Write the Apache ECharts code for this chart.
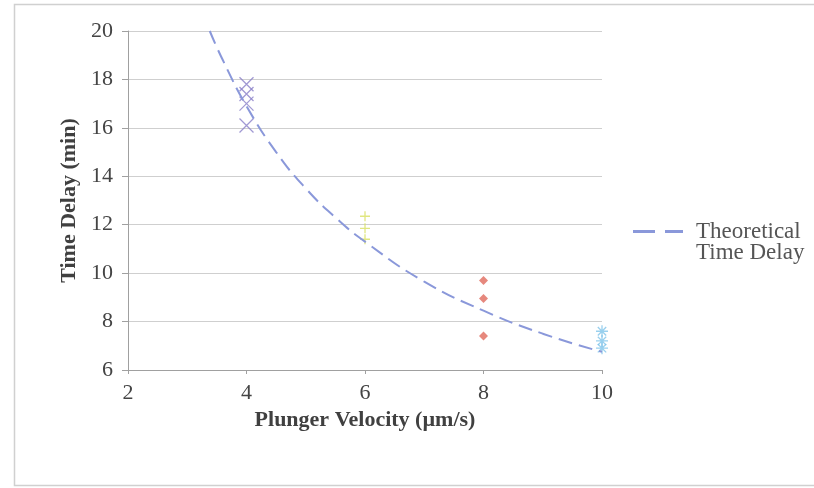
<!DOCTYPE html>
<html>
<head>
<meta charset="utf-8">
<script src="https://cdn.jsdelivr.net/npm/echarts@6/dist/echarts.min.js"></script>
<style>
html,body{margin:0;padding:0;background:#fff;}
#c{width:814px;height:488px;}
</style>
</head>
<body>
<div id="c"></div>
<script>
// Data
var xTicks = [2, 4, 6, 8, 10];
var yTicks = [6, 8, 10, 12, 14, 16, 18, 20];
var v4 = [[4, 17.8], [4, 17.4], [4, 17.0], [4, 16.1]];
var v6 = [[6, 12.35], [6, 11.85], [6, 11.4]];
var v8 = [[8, 9.7], [8, 8.95], [8, 7.4]];
var v10 = [[10, 7.6], [10, 7.2], [10, 6.9]];
var theoretical = [[3.38, 20], [3.6, 18.8], [4, 16.9], [4.5, 15.0], [5, 13.5], [5.5, 12.3], [6, 11.3], [7, 9.65], [8, 8.45], [9, 7.5], [10, 6.75]];

var serif = 'Liberation Serif';
var chart = echarts.init(document.getElementById('c'));
function strokeStyle(c) { return { color: 'rgba(0,0,0,0)', borderColor: c, borderWidth: 1.3 }; }
chart.setOption({
  animation: false,
  backgroundColor: '#fff',
  grid: { left: 128, right: 212, top: 31, bottom: 118 },
  graphic: [
    { type: 'rect', shape: { x: 14.5, y: 4.5, width: 820, height: 481 }, style: { fill: 'none', stroke: '#d0d0d0', lineWidth: 1.5 }, silent: true },
    { type: 'text', left: 696, top: 241, style: { text: 'Time Delay', font: '23px "Liberation Serif"', fill: '#555' } }
  ],
  legend: {
    data: [{ name: 'Theoretical Time Delay', icon: 'path://M0,0h22v3h-22zM32,0h18v3h-18z' }],
    left: 628, top: 215,
    itemWidth: 50, itemHeight: 3,
    formatter: function () { return 'Theoretical'; },
    textStyle: { fontFamily: serif, fontSize: 23, color: '#555', padding: [0, 0, 0, 8] }
  },
  xAxis: {
    type: 'value', min: 2, max: 10, interval: 2,
    name: 'Plunger Velocity (µm/s)', nameLocation: 'middle', nameGap: 37,
    nameTextStyle: { fontFamily: serif, fontSize: 22, fontWeight: 'bold', color: '#404040' },
    axisLine: { show: true, lineStyle: { color: '#a0a0a0', width: 1 } },
    axisTick: { show: true, length: 4, lineStyle: { color: '#a0a0a0' } },
    axisLabel: { fontFamily: serif, fontSize: 22, color: '#444', margin: 12 },
    splitLine: { show: false }
  },
  yAxis: {
    type: 'value', min: 6, max: 20, interval: 2,
    name: 'Time Delay (min)', nameLocation: 'middle', nameGap: 48, nameRotate: 90,
    nameTextStyle: { fontFamily: serif, fontSize: 22, fontWeight: 'bold', color: '#404040' },
    axisLine: { show: true, lineStyle: { color: '#a0a0a0', width: 1 } },
    axisTick: { show: true, length: 6, lineStyle: { color: '#a0a0a0' } },
    axisLabel: { fontFamily: serif, fontSize: 22, color: '#444', margin: 15 },
    splitLine: { show: true, lineStyle: { color: '#cfcfcf', width: 1 } }
  },
  series: [
    { name: 'v4', type: 'scatter', data: v4, symbol: 'path://M0,0L10,10M10,0L0,10', symbolSize: 14, itemStyle: strokeStyle('#8a80c8') },
    { name: 'v6', type: 'scatter', data: v6, symbol: 'path://M5,0L5,10M0,5L10,5', symbolSize: 10, itemStyle: strokeStyle('#d8e060') },
    { name: 'v8', type: 'scatter', data: v8, symbol: 'diamond', symbolSize: 9, itemStyle: { color: '#e06a5c' } },
    { name: 'v10', type: 'scatter', data: v10, symbol: 'path://M5,0L5,10M0,5L10,5M1.5,1.5L8.5,8.5M8.5,1.5L1.5,8.5', symbolSize: 12, itemStyle: strokeStyle('#80c4ea') },
    { name: 'Theoretical Time Delay', type: 'line', data: theoretical, smooth: true, showSymbol: false, symbol: 'none',
      lineStyle: { color: '#8a98da', width: 2, type: [14, 7] }, itemStyle: { color: '#8a98da' } }
  ]
});
</script>
</body>
</html>
